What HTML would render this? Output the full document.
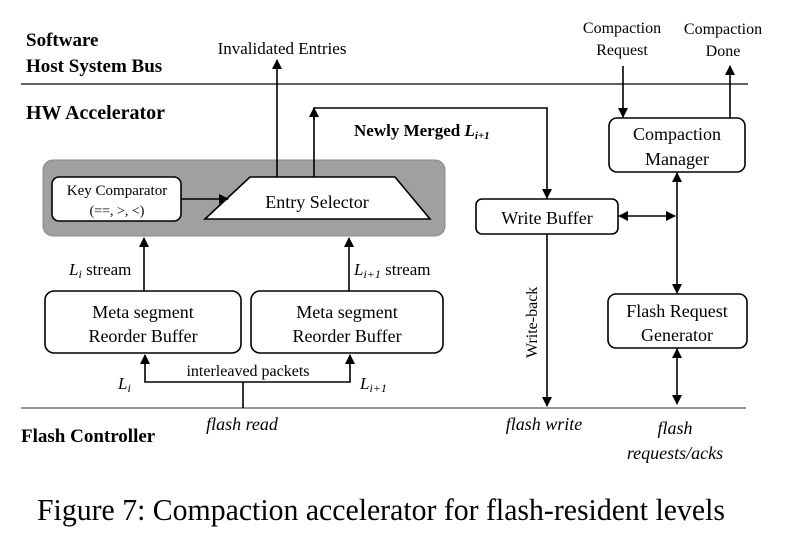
<!DOCTYPE html>
<html><head><meta charset="utf-8"><style>
html,body{margin:0;padding:0;background:#fff;}
svg{display:block;font-family:"Liberation Serif",serif;}
</style></head><body>
<svg width="789" height="558" viewBox="0 0 789 558" xmlns="http://www.w3.org/2000/svg">
<defs>
<marker id="a" markerWidth="10" markerHeight="10" refX="9" refY="5" orient="auto" markerUnits="userSpaceOnUse"><path d="M0,0 L10,5 L0,10 z" fill="#000"/></marker>
<marker id="s" markerWidth="10" markerHeight="10" refX="1" refY="5" orient="auto" markerUnits="userSpaceOnUse"><path d="M10,0 L0,5 L10,10 z" fill="#000"/></marker>
</defs>
<g stroke="#000" stroke-width="1.6" fill="none">
<line x1="21" y1="84" x2="748" y2="84" stroke-width="1.2"/>
<line x1="21" y1="408" x2="746" y2="408" stroke="#777" stroke-width="1.5"/>
<rect x="43" y="160" width="402" height="76" rx="10" fill="#a0a0a0" stroke="#888" stroke-width="1"/>
<rect x="52" y="177" width="129" height="44" rx="7" fill="#fff"/>
<polygon points="250,177 395,177 430,219 205,219" fill="#fff"/>
<line x1="181" y1="199" x2="228" y2="199" marker-end="url(#a)"/>
<line x1="277" y1="177" x2="277" y2="60" marker-end="url(#a)"/>
<polyline points="314,177 314,108 547,108 547,198" marker-end="url(#a)"/>
<line x1="314" y1="120" x2="314" y2="108" marker-end="url(#a)"/>
<rect x="45" y="291" width="196" height="62" rx="9" fill="#fff"/>
<rect x="251" y="291" width="192" height="62" rx="9" fill="#fff"/>
<line x1="144" y1="291" x2="144" y2="238" marker-end="url(#a)"/>
<line x1="349" y1="291" x2="349" y2="238" marker-end="url(#a)"/>
<polyline points="145,355 145,382 350,382 350,355" marker-start="url(#s)" marker-end="url(#a)"/>
<line x1="243" y1="382" x2="243" y2="408"/>
<rect x="476" y="199" width="142" height="35" rx="6" fill="#fff"/>
<line x1="547" y1="234" x2="547" y2="406" marker-end="url(#a)"/>
<rect x="609" y="118" width="136" height="54" rx="8" fill="#fff"/>
<rect x="608" y="294" width="139" height="54" rx="8" fill="#fff"/>
<line x1="677" y1="173" x2="677" y2="293" marker-start="url(#s)" marker-end="url(#a)"/>
<line x1="619" y1="216" x2="675" y2="216" marker-start="url(#s)" marker-end="url(#a)"/>
<line x1="623" y1="66" x2="623" y2="117" marker-end="url(#a)"/>
<line x1="730" y1="118" x2="730" y2="66" marker-end="url(#a)"/>
<line x1="677" y1="349" x2="677" y2="404" marker-start="url(#s)" marker-end="url(#a)"/>
</g>
<g fill="#000" font-size="17">
<text x="26" y="46" font-weight="bold" font-size="19">Software</text>
<text x="26" y="72" font-weight="bold" font-size="19">Host System Bus</text>
<text x="26" y="119" font-weight="bold" font-size="20">HW Accelerator</text>
<text x="21" y="442" font-weight="bold" font-size="19">Flash Controller</text>
<text x="282" y="54" text-anchor="middle" font-size="17">Invalidated Entries</text>
<text x="354" y="136" font-weight="bold" font-size="17">Newly Merged <tspan font-style="italic">L</tspan><tspan font-style="italic" font-size="11" dy="3">i+1</tspan></text>
<text x="117" y="195" font-size="15" text-anchor="middle">Key Comparator</text>
<text x="117" y="215" font-size="14" text-anchor="middle">(==, &gt;, &lt;)</text>
<text x="317" y="208" text-anchor="middle" font-size="18">Entry Selector</text>
<text x="69" y="275" font-style="italic">L<tspan font-size="12" dy="3">i</tspan><tspan dy="-3" font-style="normal"> stream</tspan></text>
<text x="354" y="275" font-style="italic">L<tspan font-size="12" dy="3">i+1</tspan><tspan dy="-3" font-style="normal"> stream</tspan></text>
<text x="143" y="318" text-anchor="middle" font-size="18">Meta segment</text>
<text x="143" y="342" text-anchor="middle" font-size="18">Reorder Buffer</text>
<text x="347" y="318" text-anchor="middle" font-size="18">Meta segment</text>
<text x="347" y="342" text-anchor="middle" font-size="18">Reorder Buffer</text>
<text x="248" y="376" text-anchor="middle" font-size="16">interleaved packets</text>
<text x="118" y="389" font-style="italic">L<tspan font-size="12" dy="3">i</tspan></text>
<text x="360" y="389" font-style="italic">L<tspan font-size="12" dy="3">i+1</tspan></text>
<text x="547" y="224" text-anchor="middle" font-size="18">Write Buffer</text>
<text transform="translate(537,358) rotate(-90)" font-size="16">Write-back</text>
<text x="677" y="140" text-anchor="middle" font-size="18">Compaction</text>
<text x="677" y="165" text-anchor="middle" font-size="18">Manager</text>
<text x="677" y="317" text-anchor="middle" font-size="18">Flash Request</text>
<text x="677" y="341" text-anchor="middle" font-size="18">Generator</text>
<text x="622" y="33" text-anchor="middle" font-size="16">Compaction</text>
<text x="622" y="55" text-anchor="middle" font-size="16">Request</text>
<text x="723" y="34" text-anchor="middle" font-size="16">Compaction</text>
<text x="723" y="56" text-anchor="middle" font-size="16">Done</text>
<text x="242" y="430" font-style="italic" font-size="18" text-anchor="middle">flash read</text>
<text x="544" y="430" font-style="italic" font-size="18" text-anchor="middle">flash write</text>
<text x="675" y="434" text-anchor="middle" font-style="italic" font-size="18">flash</text>
<text x="675" y="459" text-anchor="middle" font-style="italic" font-size="18">requests/acks</text>
<text x="37" y="520" font-size="31" textLength="688" lengthAdjust="spacingAndGlyphs">Figure 7: Compaction accelerator for flash-resident levels</text>
</g>
</svg>
</body></html>
